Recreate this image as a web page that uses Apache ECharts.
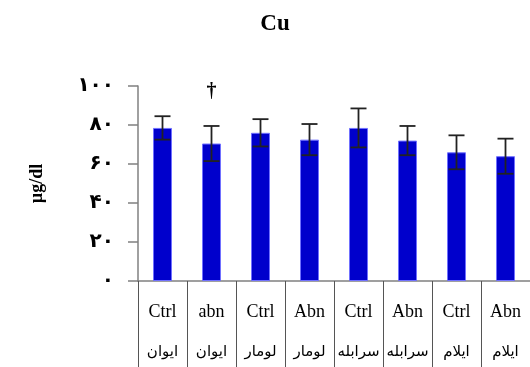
<!DOCTYPE html>
<html>
<head>
<meta charset="utf-8">
<script src="https://cdn.jsdelivr.net/npm/echarts@6/dist/echarts.min.js"></script>
<style>html,body{margin:0;padding:0;background:#fff}#chart{width:530px;height:367px}</style>
</head>
<body>
<div id="chart"></div>
<script>
// Group labels (top row) and sites (bottom row)
const groups = ["Ctrl", "abn", "Ctrl", "Abn", "Ctrl", "Abn", "Ctrl", "Abn"];
const sites = ["ایوان", "ایوان", "لومار", "لومار", "سرابله", "سرابله", "ایلام", "ایلام"];
// Mean Cu (µg/dl) and error
const means = [78.5, 70.5, 76, 72.5, 78.5, 72, 66, 64];
const errors = [6, 9, 7, 8, 10, 7.5, 8.7, 9];
// Significance marks
const marks = ["", "†", "", "", "", "", "", ""];
const yTicks = [0, 20, 40, 60, 80, 100];

const faDigits = "۰۱۲۳۴۵۶۷۸۹";
const toFa = v => String(v).replace(/\d/g, d => faDigits[+d]);

const cats = groups.map((g, i) => i);
const chart = echarts.init(document.getElementById('chart'));
chart.setOption({
  animation: false,
  title: {
    text: 'Cu', left: 270, top: 8, textAlign: 'center',
    textStyle: { fontFamily: 'Liberation Serif', fontWeight: 'bold', fontSize: 23, color: '#000' }
  },
  grid: { left: 138, right: -6, top: 86, bottom: 86 },
  xAxis: {
    type: 'category', data: cats,
    axisLine: { lineStyle: { color: '#808080', width: 1.5 } },
    axisTick: { show: true, interval: 0, length: 90, lineStyle: { color: '#555', width: 1 } },
    axisLabel: {
      interval: 0, margin: 11,
      formatter: (v, i) => '{a|' + groups[i] + '}\n{b|' + sites[i] + '}',
      rich: {
        a: { fontFamily: 'Liberation Serif', fontSize: 18, color: '#000', lineHeight: 40 },
        b: { fontFamily: 'DejaVu Sans', fontSize: 15, color: '#000', lineHeight: 40 }
      }
    }
  },
  yAxis: {
    type: 'value', min: 0, max: 100, interval: 20,
    name: 'µg/dl', nameLocation: 'middle', nameGap: 92, nameRotate: 90,
    nameTextStyle: { fontFamily: 'Liberation Serif', fontWeight: 'bold', fontSize: 18, color: '#000' },
    splitLine: { show: false },
    axisLine: { show: true, lineStyle: { color: '#808080', width: 1.5 } },
    axisTick: { show: true, length: 10, lineStyle: { color: '#808080', width: 1.5 } },
    axisLabel: {
      margin: 24, color: '#000', fontSize: 20, fontWeight: 'bold', fontFamily: 'DejaVu Sans',
      formatter: v => toFa(v)
    }
  },
  series: [
    {
      type: 'bar', data: means, barWidth: 19,
      itemStyle: { color: '#0000CC', borderColor: '#7070ff', borderWidth: 1 }
    },
    {
      type: 'custom', z: 5,
      data: means.map((m, i) => [i, m - errors[i], m + errors[i], marks[i]]),
      renderItem: (params, api) => {
        const x = api.value(0);
        const lo = api.coord([x, api.value(1)]);
        const hi = api.coord([x, api.value(2)]);
        const cw = 8;
        const style = { stroke: '#222', lineWidth: 1.8 };
        const children = [
          { type: 'line', shape: { x1: lo[0], y1: lo[1], x2: hi[0], y2: hi[1] }, style },
          { type: 'line', shape: { x1: lo[0] - cw, y1: lo[1], x2: lo[0] + cw, y2: lo[1] }, style },
          { type: 'line', shape: { x1: hi[0] - cw, y1: hi[1], x2: hi[0] + cw, y2: hi[1] }, style }
        ];
        const mk = marks[params.dataIndex];
        if (mk) {
          children.push({
            type: 'text',
            style: { text: mk, x: hi[0], y: hi[1] - 34, align: 'center', verticalAlign: 'middle',
                     fontFamily: 'Liberation Serif', fontSize: 20, fontWeight: 'bold', fill: '#000' }
          });
        }
        return { type: 'group', children };
      }
    }
  ]
});
</script>
</body>
</html>
